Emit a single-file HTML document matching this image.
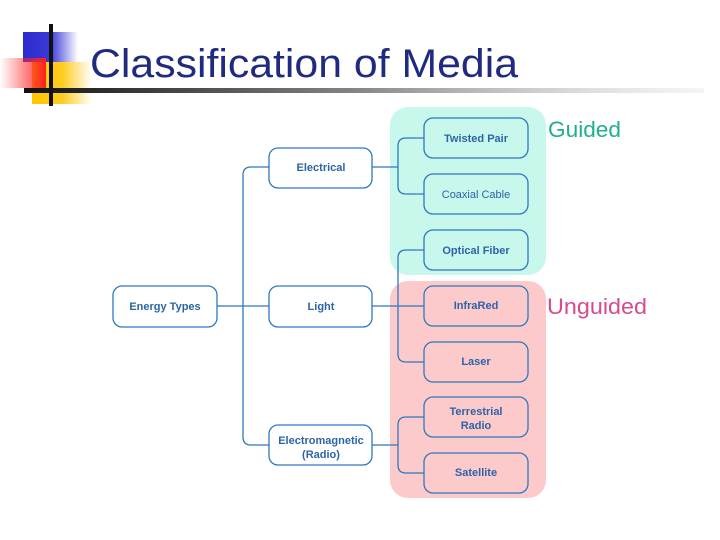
<!DOCTYPE html>
<html><head><meta charset="utf-8"><style>
body{margin:0;background:#fff}
svg{display:block}
</style></head><body>
<svg width="720" height="540" xmlns="http://www.w3.org/2000/svg" font-family="Liberation Sans, sans-serif">
<defs>
<linearGradient id="bl" x1="0" x2="1"><stop offset="0" stop-color="#2b2bd0"/><stop offset="0.5" stop-color="#3a3ad8"/><stop offset="1" stop-color="#3a3ad8" stop-opacity="0"/></linearGradient>
<linearGradient id="ye" x1="0" x2="1"><stop offset="0" stop-color="#ffc800"/><stop offset="0.5" stop-color="#ffcc20"/><stop offset="1" stop-color="#ffcc20" stop-opacity="0"/></linearGradient>
<linearGradient id="re" x1="0" x2="1"><stop offset="0" stop-color="#ff3030" stop-opacity="0"/><stop offset="1" stop-color="#ff2020"/></linearGradient>
<linearGradient id="ln" x1="0" x2="1"><stop offset="0" stop-color="#111"/><stop offset="0.5" stop-color="#888"/><stop offset="1" stop-color="#ddd" stop-opacity="0.3"/></linearGradient>
</defs>
<rect x="23" y="32" width="55" height="30" fill="url(#bl)"/>
<rect x="32" y="62" width="60" height="42" fill="url(#ye)"/>
<rect x="0" y="58" width="46" height="30" fill="url(#re)"/>
<rect x="24" y="88" width="680" height="5" fill="url(#ln)"/>
<rect x="49" y="24" width="4" height="82" fill="#111"/>
<text x="90" y="77" font-size="40" fill="#1f2a80" textLength="428" lengthAdjust="spacingAndGlyphs">Classification of Media</text>

<rect x="390" y="107" width="156" height="168" rx="18" fill="#c8f7ec"/>
<rect x="390" y="281" width="156" height="217" rx="18" fill="#fccaca"/>
<text x="548" y="137" font-size="22" fill="#20b090" textLength="73" lengthAdjust="spacingAndGlyphs">Guided</text>
<text x="547" y="314" font-size="22" fill="#d84a90" textLength="100" lengthAdjust="spacingAndGlyphs">Unguided</text>

<g fill="none" stroke="#2f78c0" stroke-width="1.3">
<path d="M217 306H243M243 175V437Q243 445 251 445H269M243 175Q243 167 251 167H269M243 306H269"/>
<path d="M372 167H398M398 146Q398 138 406 138H424M398 146V186Q398 194 406 194H424"/>
<path d="M372 306H398M398 258Q398 250 406 250H424M398 258V354Q398 362 406 362H424M398 306H424"/>
<path d="M372 445H398M398 425Q398 417 406 417H424M398 425V465Q398 473 406 473H424"/>
<rect x="113" y="286" width="104" height="41" rx="9"/>
<rect x="269" y="148" width="103" height="40" rx="9"/>
<rect x="269" y="286" width="103" height="41" rx="9"/>
<rect x="269" y="425" width="103" height="40" rx="9"/>
<rect x="424" y="118" width="104" height="40" rx="9"/>
<rect x="424" y="174" width="104" height="40" rx="9"/>
<rect x="424" y="230" width="104" height="40" rx="9"/>
<rect x="424" y="286" width="104" height="40" rx="9"/>
<rect x="424" y="342" width="104" height="40" rx="9"/>
<rect x="424" y="397" width="104" height="40" rx="9"/>
<rect x="424" y="453" width="104" height="40" rx="9"/>
</g>
<g font-size="11" font-weight="bold" fill="#2c64a8" text-anchor="middle">
<text x="165" y="310">Energy Types</text>
<text x="321" y="171">Electrical</text>
<text x="321" y="310">Light</text>
<text x="321" y="444">Electromagnetic</text>
<text x="321" y="458">(Radio)</text>
<text x="476" y="142">Twisted Pair</text>
<text x="476" y="198" font-weight="normal">Coaxial Cable</text>
<text x="476" y="254">Optical Fiber</text>
<text x="476" y="309">InfraRed</text>
<text x="476" y="365">Laser</text>
<text x="476" y="415">Terrestrial</text>
<text x="476" y="429">Radio</text>
<text x="476" y="476">Satellite</text>
</g>
</svg>
</body></html>
